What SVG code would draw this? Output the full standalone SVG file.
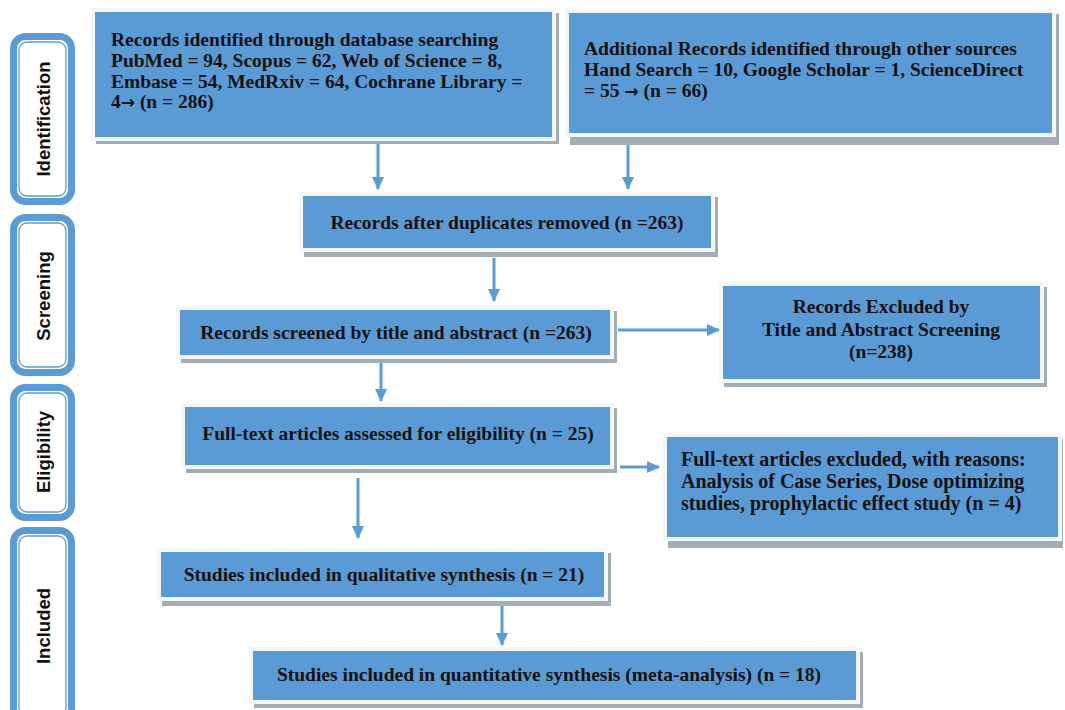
<svg xmlns="http://www.w3.org/2000/svg" width="1065" height="710" viewBox="0 0 1065 710">
<defs>
<style>
.box{fill:#5B9BD5;stroke:#F4F6F8;stroke-width:4}
.sh{fill:#A3ADB8}
.t{font-family:"Liberation Serif","Times New Roman",serif;font-weight:bold;font-size:19.5px;fill:#111}
.c{text-anchor:middle}
.arw{font-family:"DejaVu Sans",sans-serif;font-weight:bold;font-size:17px}
.lo{fill:#fff;stroke:#5B9BD5;stroke-width:7}
.li{fill:none;stroke:#5B9BD5;stroke-width:1.3}
.lt{font-family:"Liberation Sans",Arial,sans-serif;font-weight:bold;font-size:18.5px;fill:#111;text-anchor:middle}
.ar{stroke:#5B9BD5;stroke-width:3;fill:none;marker-end:url(#ah)}
</style>
<marker id="ah" markerUnits="userSpaceOnUse" markerWidth="14" markerHeight="14" viewBox="0 0 14 14" refX="12" refY="7" orient="auto">
<path d="M0,1 L13,7 L0,13 Z" fill="#5B9BD5"/>
</marker>
</defs>
<rect width="1065" height="710" fill="#fff"/>

<g id="lab-identification">
<rect class="lo" x="13.5" y="36.5" width="58" height="165" rx="12"/>
<rect class="li" x="19" y="42" width="47" height="154" rx="8"/>
<text class="lt" transform="translate(50,119) rotate(-90)">Identification</text>
</g>
<g id="lab-screening">
<rect class="lo" x="13.5" y="217.5" width="58" height="155" rx="12"/>
<rect class="li" x="19" y="223" width="47" height="144" rx="8"/>
<text class="lt" transform="translate(50,296) rotate(-90)">Screening</text>
</g>
<g id="lab-eligibility">
<rect class="lo" x="13.5" y="387.5" width="58" height="130" rx="12"/>
<rect class="li" x="19" y="393" width="47" height="119" rx="8"/>
<text class="lt" transform="translate(50,452) rotate(-90)">Eligibility</text>
</g>
<g id="lab-included">
<rect class="lo" x="13.5" y="530.5" width="58" height="190" rx="12"/>
<rect class="li" x="19" y="536" width="47" height="179" rx="8"/>
<text class="lt" transform="translate(50,626) rotate(-90)">Included</text>
</g>

<g id="connectors">
<line class="ar" x1="378" y1="144" x2="378" y2="189"/>
<line class="ar" x1="628" y1="143" x2="628" y2="189"/>
<line class="ar" x1="494" y1="258" x2="494" y2="301"/>
<line class="ar" x1="618" y1="330" x2="719" y2="330"/>
<line class="ar" x1="381" y1="360" x2="381" y2="401"/>
<line class="ar" x1="620" y1="467" x2="659" y2="467"/>
<line class="ar" x1="358" y1="478" x2="358" y2="538"/>
<line class="ar" x1="502" y1="606" x2="502" y2="645"/>
</g>

<g id="n1">
<rect class="sh" x="96" y="13" width="463" height="131"/>
<rect class="box" x="93" y="10" width="461" height="129"/>
<text class="t" x="111" y="46">Records identified through database searching</text>
<text class="t" x="111" y="67">PubMed = 94, Scopus = 62, Web of Science = 8,</text>
<text class="t" x="111" y="88">Embase = 54, MedRxiv = 64, Cochrane Library =</text>
<text class="t" x="111" y="108">4<tspan class="arw">→</tspan> (n = 286)</text>
</g>
<g id="n2">
<rect class="sh" x="570" y="14" width="489" height="131"/>
<rect class="box" x="567" y="11" width="487" height="124"/>
<text class="t" x="584" y="55">Additional Records identified through other sources</text>
<text class="t" x="584" y="76">Hand Search = 10, Google Scholar = 1, ScienceDirect</text>
<text class="t" x="584" y="97">= 55 <tspan class="arw">→</tspan> (n = 66)</text>
</g>
<g id="n3">
<rect class="sh" x="304" y="197" width="414" height="60"/>
<rect class="box" x="301" y="194" width="412" height="56"/>
<text class="t c" x="507" y="229">Records after duplicates removed (n =263)</text>
</g>
<g id="n4">
<rect class="sh" x="181" y="311" width="436" height="52"/>
<rect class="box" x="178" y="308" width="434" height="49"/>
<text class="t c" x="396" y="339">Records screened by title and abstract (n =263)</text>
</g>
<g id="n5">
<rect class="sh" x="724" y="287" width="323" height="100"/>
<rect class="box" x="721" y="284" width="321" height="97"/>
<text class="t c" x="881" y="313">Records Excluded by</text>
<text class="t c" x="881" y="336">Title and Abstract Screening</text>
<text class="t c" x="881" y="358">(n=238)</text>
</g>
<g id="n6">
<rect class="sh" x="186" y="408" width="431" height="65"/>
<rect class="box" x="183" y="405" width="429" height="62"/>
<text class="t c" x="398" y="440">Full-text articles assessed for eligibility (n = 25)</text>
</g>
<g id="n7">
<rect class="sh" x="668" y="439" width="395" height="109"/>
<rect class="box" x="665" y="435" width="395" height="104"/>
<text class="t" x="681" y="466" style="font-size:20px">Full-text articles excluded, with reasons:</text>
<text class="t" x="681" y="488" style="font-size:20px">Analysis of Case Series, Dose optimizing</text>
<text class="t" x="681" y="510" style="font-size:20px">studies, prophylactic effect study (n = 4)</text>
</g>
<g id="n8">
<rect class="sh" x="162" y="553" width="449" height="53"/>
<rect class="box" x="159" y="550" width="447" height="49"/>
<text class="t c" x="384" y="581">Studies included in qualitative synthesis (n = 21)</text>
</g>
<g id="n9">
<rect class="sh" x="254" y="652" width="609" height="56"/>
<rect class="box" x="251" y="649" width="607" height="53"/>
<text class="t c" x="549" y="681">Studies included in quantitative synthesis (meta-analysis) (n = 18)</text>
</g>
</svg>
